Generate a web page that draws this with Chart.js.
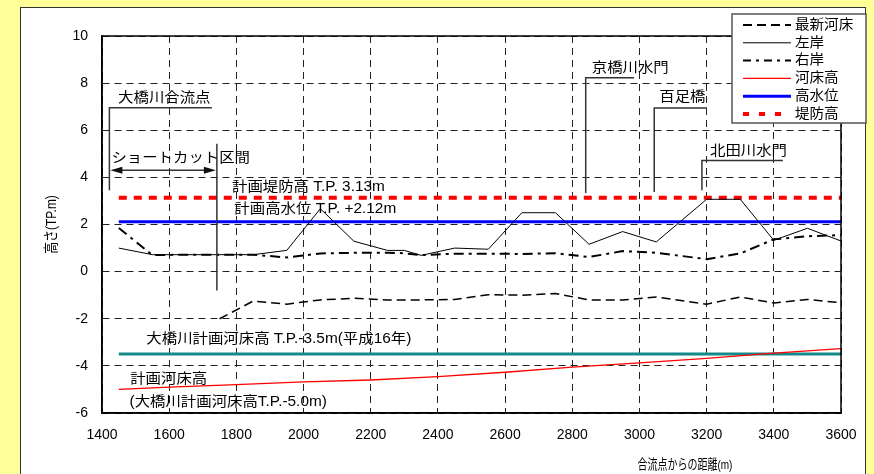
<!DOCTYPE html>
<html lang="ja">
<head>
<meta charset="UTF-8">
<title>大橋川 縦断図</title>
<script src="https://cdn.jsdelivr.net/npm/chart.js"></script>
<style>
  body { margin: 0; background: #ffff99; overflow: hidden; }
  .panel { position: absolute; left: 20px; top: 7px; width: 846px; height: 480px; background: #fff; border: 1.5px solid #333; box-sizing: border-box; }
  .wrap { position: absolute; left: 0; top: 0; width: 874px; height: 474px; }
</style>
</head>
<body>
<div class="panel"></div>
<div class="wrap"><canvas id="profile"></canvas></div>
<script>
// distance from confluence (m) and heights (T.P. m)
const bankX      = [1450, 1550, 1650, 1750, 1850, 1950, 2050, 2150, 2250, 2300, 2350, 2450, 2550, 2650, 2750, 2850, 2950, 3050, 3200, 3300, 3400, 3500, 3600];
const leftBank   = [1.0, 0.72, 0.72, 0.72, 0.72, 0.9, 2.67, 1.29, 0.9, 0.9, 0.69, 1.0, 0.95, 2.5, 2.5, 1.16, 1.7, 1.26, 3.07, 3.07, 1.33, 1.84, 1.3];
const rightBank  = [1.85, 0.7, 0.72, 0.72, 0.72, 0.6, 0.77, 0.8, 0.8, 0.78, 0.7, 0.76, 0.76, 0.75, 0.78, 0.62, 0.87, 0.8, 0.53, 0.77, 1.37, 1.5, 1.55];
const bedX       = [1750, 1850, 1950, 2050, 2150, 2250, 2350, 2450, 2550, 2650, 2750, 2850, 2950, 3050, 3200, 3300, 3400, 3500, 3600];
const latestBed  = [-2.0, -1.25, -1.38, -1.2, -1.13, -1.2, -1.2, -1.18, -0.98, -1.0, -0.93, -1.2, -1.2, -1.08, -1.38, -1.08, -1.33, -1.18, -1.32];
const planBedX   = [1450, 1600, 1800, 2000, 2200, 2400, 2600, 2800, 3000, 3200, 3400, 3600];
const planBed    = [-5.0, -4.9, -4.8, -4.68, -4.6, -4.46, -4.27, -4.05, -3.87, -3.68, -3.46, -3.27];
const levelX     = [1450, 3600];
const highWater  = [2.12, 2.12];
const leveeHeight = [3.13, 3.13];
const ohashiBed  = [-3.5, -3.5];

const FONT = "'Liberation Sans', 'Noto Sans CJK JP', sans-serif";

function pts(xs, ys) {
  return xs.map((x, i) => ({ x: x, y: ys[i] }));
}

function drawText(ctx, str, x, y, size, sx, align) {
  ctx.save();
  ctx.font = size + 'px ' + FONT;
  ctx.fillStyle = '#000';
  ctx.textBaseline = 'middle';
  ctx.textAlign = 'left';
  const w = ctx.measureText(str).width * sx;
  const x0 = align === 'center' ? x - w / 2 : x;
  ctx.translate(x0, y);
  ctx.scale(sx, 1);
  ctx.fillText(str, 0, 0);
  ctx.restore();
}

// callout brackets: text plus an L-shaped leader
const callouts = [
  { text: '大橋川合流点', tx: 1448, ty: 7.36, x: 1422, bottom: 3.45, top: 6.96, right: 1727 },
  { text: '京橋川水門', tx: 2858, ty: 8.62, x: 2840, bottom: 3.34, top: 8.23, right: 2984 },
  { text: '百足橋', tx: 3059, ty: 7.42, x: 3044, bottom: 3.38, top: 6.94, right: 3201 },
  { text: '北田川水門', tx: 3210, ty: 5.1, x: 3186, bottom: 3.45, top: 4.72, right: 3427 }
];

const notes = [
  { text: 'ショートカット区間', x: 1428, y: 4.83 },
  { text: '計画堤防高 T.P. 3.13m', x: 1787, y: 3.58 },
  { text: '計画高水位 T.P. +2.12m', x: 1794, y: 2.64 },
  { text: '大橋川計画河床高 T.P.-3.5m(平成16年)', x: 1532, y: -2.87 },
  { text: '計画河床高', x: 1484, y: -4.57 },
  { text: '(大橋川計画河床高T.P.-5.0m)', x: 1482, y: -5.53 }
];

const overlay = {
  id: 'overlay',
  afterDatasetsDraw(chart) {
    const ctx = chart.ctx;
    const xs = chart.scales.x, ys = chart.scales.y;
    const a = chart.chartArea;
    const X = v => xs.getPixelForValue(v), Y = v => ys.getPixelForValue(v);

    // box round the plot
    ctx.save();
    ctx.strokeStyle = '#000';
    ctx.lineWidth = 1.5;
    ctx.strokeRect(a.left, a.top, a.right - a.left, a.bottom - a.top);
    ctx.restore();

    ctx.save();
    ctx.strokeStyle = '#333';
    ctx.lineWidth = 1.5;
    callouts.forEach(c => {
      ctx.beginPath();
      ctx.moveTo(X(c.x), Y(c.bottom));
      ctx.lineTo(X(c.x), Y(c.top));
      ctx.lineTo(X(c.right), Y(c.top));
      ctx.stroke();
    });
    // shortcut section: end post and double arrow
    ctx.beginPath();
    ctx.moveTo(X(1742), Y(-0.8));
    ctx.lineTo(X(1742), Y(5.43));
    ctx.moveTo(X(1422) + 10, Y(4.3));
    ctx.lineTo(X(1742) - 10, Y(4.3));
    ctx.stroke();
    ctx.fillStyle = '#111';
    const ay = Y(4.3), l = X(1422) + 1, r = X(1742) - 1;
    ctx.beginPath();
    ctx.moveTo(l, ay); ctx.lineTo(l + 12, ay - 3.5); ctx.lineTo(l + 12, ay + 3.5); ctx.closePath();
    ctx.moveTo(r, ay); ctx.lineTo(r - 12, ay - 3.5); ctx.lineTo(r - 12, ay + 3.5); ctx.closePath();
    ctx.fill();
    ctx.restore();

    callouts.forEach(c => drawText(ctx, c.text, X(c.tx), Y(c.ty), 14, 1.1, 'left'));
    notes.forEach(n => drawText(ctx, n.text, X(n.x), Y(n.y), 14, 1.1, 'left'));
  },
  afterDraw(chart) {
    const ctx = chart.ctx;
    const a = chart.chartArea;
    // axis titles
    ctx.save();
    ctx.translate(52, (a.top + a.bottom) / 2);
    ctx.rotate(-Math.PI / 2);
    drawText(ctx, '高さ(TP.m)', 0, 0, 14.5, 0.82, 'center');
    ctx.restore();
    drawText(ctx, '合流点からの距離(m)', 685, 465, 13.5, 0.74, 'center');

    // legend box
    const bx = 732, by = 14, bw = 134, bh = 109;
    ctx.save();
    ctx.fillStyle = '#fff';
    ctx.fillRect(bx, by, bw, bh);
    ctx.strokeStyle = '#555';
    ctx.lineWidth = 1.5;
    ctx.strokeRect(bx, by, bw, bh);
    chart.data.datasets.filter(d => d.inLegend).forEach((d, i) => {
      const yy = 25 + i * 17.8;
      ctx.save();
      ctx.strokeStyle = d.borderColor;
      ctx.lineWidth = d.legendWidth || d.borderWidth;
      ctx.setLineDash(d.legendDash || d.borderDash || []);
      ctx.beginPath();
      ctx.moveTo(743, yy);
      ctx.lineTo(791, yy);
      ctx.stroke();
      ctx.restore();
      drawText(ctx, d.label, 795, yy, 14, 1.04, 'left');
    });
    ctx.restore();
  }
};

const datasets = [
  { label: '最新河床', data: pts(bedX, latestBed), borderColor: '#000', borderWidth: 1.5, borderDash: [9, 5], inLegend: true, legendWidth: 2 },
  { label: '左岸', data: pts(bankX, leftBank), borderColor: '#000', borderWidth: 1, inLegend: true },
  { label: '右岸', data: pts(bankX, rightBank), borderColor: '#000', borderWidth: 2, borderDash: [10, 5, 3, 5], inLegend: true, legendDash: [8, 5, 3, 5] },
  { label: '河床高', data: pts(planBedX, planBed), borderColor: '#ff0000', borderWidth: 1.3, inLegend: true },
  { label: '高水位', data: pts(levelX, highWater), borderColor: '#0000ff', borderWidth: 3, inLegend: true },
  { label: '堤防高', data: pts(levelX, leveeHeight), borderColor: '#ff0000', borderWidth: 4, borderDash: [8, 7], inLegend: true, legendDash: [6, 10] },
  { label: '大橋川計画河床高', data: pts(levelX, ohashiBed), borderColor: '#138a8a', borderWidth: 3, inLegend: false }
];

new Chart(document.getElementById('profile'), {
  type: 'line',
  data: { datasets: datasets },
  options: {
    responsive: true,
    maintainAspectRatio: false,
    animation: false,
    layout: { padding: { top: 36, right: 33, left: 0, bottom: 0 } },
    elements: { point: { radius: 0 }, line: { tension: 0, fill: false } },
    plugins: { legend: { display: false }, tooltip: { enabled: false } },
    scales: {
      x: {
        type: 'linear',
        min: 1400, max: 3600,
        ticks: { stepSize: 200, color: '#000', padding: 14, font: { family: FONT, size: 14 }, callback: v => String(v) },
        grid: { color: '#222', lineWidth: 1, drawTicks: false },
        border: { display: true, color: '#000', width: 1.5, dash: [7, 5] },
        afterFit: s => { s.height = 61; }
      },
      y: {
        min: -6, max: 10,
        ticks: { stepSize: 2, color: '#000', padding: 14, font: { family: FONT, size: 14 }, callback: v => String(v) },
        grid: { color: '#222', lineWidth: 1, drawTicks: false },
        border: { display: true, color: '#000', width: 1.5, dash: [7, 5] },
        afterFit: s => { s.width = 102; }
      }
    }
  },
  plugins: [overlay]
});
</script>
</body>
</html>
